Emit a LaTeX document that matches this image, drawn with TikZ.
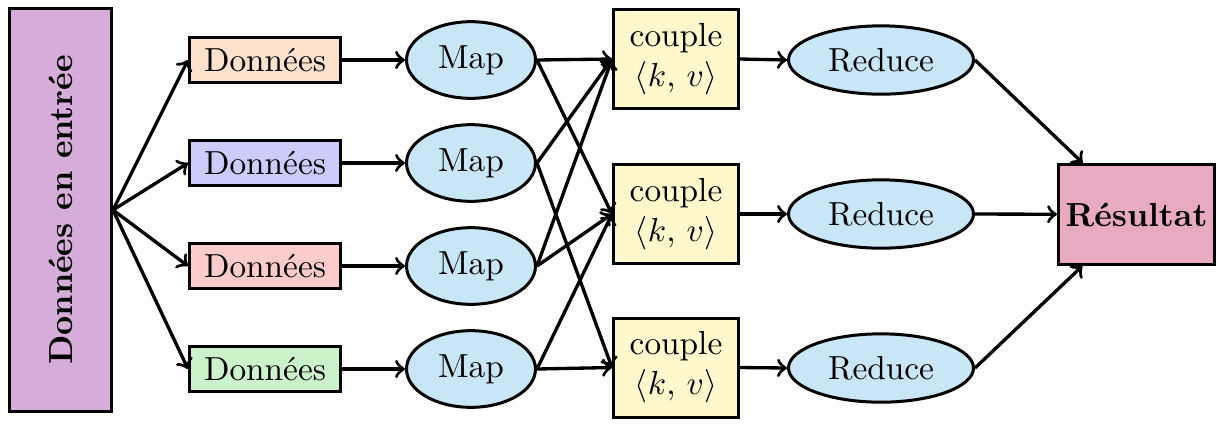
\documentclass[tikz,border=0pt]{standalone}
\usetikzlibrary{shapes.geometric}
\definecolor{inputcol}{RGB}{214,172,216}
\definecolor{d1col}{RGB}{252,226,204}
\definecolor{d2col}{RGB}{204,204,250}
\definecolor{d3col}{RGB}{250,204,204}
\definecolor{d4col}{RGB}{204,242,204}
\definecolor{ellcol}{RGB}{200,230,246}
\definecolor{coupcol}{RGB}{255,248,204}
\definecolor{rescol}{RGB}{232,170,192}
\tikzset{
  box/.style={draw=black, line width=0.9pt, inner sep=0pt, align=center},
  databox/.style={box, minimum width=45.3pt, minimum height=13.5pt},
  mapell/.style={ellipse, draw=black, line width=0.9pt, fill=ellcol, inner sep=0pt, minimum width=38.7pt, minimum height=23pt},
  redell/.style={ellipse, draw=black, line width=0.9pt, fill=ellcol, inner sep=0pt, minimum width=55.5pt, minimum height=20.5pt},
  coupbox/.style={box, fill=coupcol, minimum width=37.5pt, minimum height=29.7pt},
  arr/.style={->, line width=1pt}
}
\begin{document}
\begin{tikzpicture}[x=0.3pt,y=-0.3pt]
\useasboundingbox (0,0) rectangle (1217,423);
\node[box, fill=inputcol, minimum width=121pt, minimum height=30.6pt, rotate=90] (in) at (60.5,210) {\bfseries Données en entrée};
\node[databox, fill=d1col] (d1) at (265,60) {Données};
\node[databox, fill=d2col] (d2) at (265,163) {Données};
\node[databox, fill=d3col] (d3) at (265,266) {Données};
\node[databox, fill=d4col] (d4) at (265,369) {Données};
\node[mapell] (m1) at (471,60) {Map};
\node[mapell] (m2) at (471,163) {Map};
\node[mapell] (m3) at (471,266) {Map};
\node[mapell] (m4) at (471,369) {Map};
\node[coupbox] (c1) at (676,59) {couple\\$\langle k,\,v\rangle$};
\node[coupbox] (c2) at (676,214) {couple\\$\langle k,\,v\rangle$};
\node[coupbox] (c3) at (676,367.5) {couple\\$\langle k,\,v\rangle$};
\node[redell] (r1) at (881,60) {Reduce};
\node[redell] (r2) at (881,214) {Reduce};
\node[redell] (r3) at (881,368) {Reduce};
\node[box, fill=rescol, minimum width=46.8pt, minimum height=30pt] (res) at (1136.5,214.5) {\bfseries Résultat};
\foreach \i in {1,...,4}{
  \draw[arr] (in.south) -- (d\i.west);
  \draw[arr] (d\i.east) -- (m\i.west);
}
\draw[arr] (m1.east) -- (c1.west);
\draw[arr] (m1.east) -- (c2.west);
\draw[arr] (m2.east) -- (c1.west);
\draw[arr] (m2.east) -- (c3.west);
\draw[arr] (m3.east) -- (c1.west);
\draw[arr] (m3.east) -- (c2.west);
\draw[arr] (m4.east) -- (c2.west);
\draw[arr] (m4.east) -- (c3.west);
\foreach \i in {1,2,3}{
  \draw[arr] (c\i.east) -- (r\i.west);
  \draw[arr] (r\i.east) -- (res);
}
\end{tikzpicture}
\end{document}
